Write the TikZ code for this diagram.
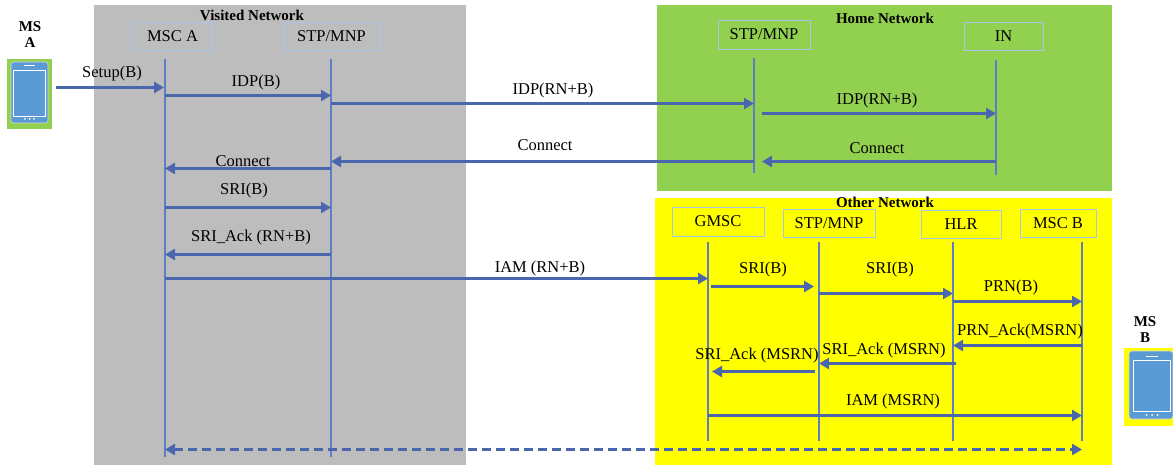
\documentclass[tikz,border=0pt]{standalone}
\usepackage{fontspec}
\setmainfont{Liberation Serif}
\usetikzlibrary{arrows.meta}
\definecolor{visitedgray}{HTML}{BDBDBD}
\definecolor{homegreen}{HTML}{92D050}
\definecolor{otheryellow}{HTML}{FFFF00}
\definecolor{msgblue}{HTML}{4A66AC}
\definecolor{lifeblue}{HTML}{5F7CC8}
\definecolor{boxblue}{HTML}{A5C8EA}
\definecolor{phoneblue}{HTML}{5B9BD5}
\tikzset{
  entity/.style={draw=boxblue,line width=0.9pt,inner sep=0pt,font=\fontsize{16.5}{19}\selectfont,text=black},
  life/.style={draw=lifeblue,line width=1.1pt},
  msgline/.style={line width=2.8pt,color=msgblue},
  msg/.style={msgline,-{Triangle[length=10pt,width=11pt]}},
  msgdash/.style={msgline,dash pattern=on 9pt off 5pt,{Triangle[length=10pt,width=11pt]}-{Triangle[length=10pt,width=11pt]}},
  lbl/.style={font=\fontsize{16.5}{19}\selectfont,text=black,inner sep=0pt,yshift=-1pt},
  ttl/.style={font=\bfseries\fontsize{15}{17}\selectfont,text=black,inner sep=0pt,align=center},
}
\begin{document}
\begin{tikzpicture}[x=1pt,y=-1pt]
\useasboundingbox (0,0) rectangle (1173,465);
% regions
\fill[visitedgray] (94,5) rectangle (466,465);
\fill[homegreen] (657,5) rectangle (1112,191);
\fill[otheryellow] (655,198) rectangle (1112,465);
% region titles
\node[ttl] (tv) at (252,15) {Visited Network};
\node[ttl] (th) at (885,18) {Home Network};
\node[ttl] (to) at (885,202) {Other Network};
\node[ttl] (msa) at (30,35) {MS\\[-1pt]A};
\node[ttl] (msb) at (1145,330) {MS\\[-1pt]B};
% phones
\fill[homegreen] (7,59) rectangle (52,129);
\fill[phoneblue,draw=black!15,line width=0.6pt,rounded corners=2.5pt] (11,62) rectangle (48,123);
\draw[white,line width=0.8pt] (13.5,70) rectangle (45,116);
\draw[white,line width=1pt] (24,66) -- (35,66);
\fill[white] (25,119) circle (1) (29.5,119) circle (1) (34,119) circle (1);
\fill[otheryellow] (1124,348) rectangle (1173,426);
\fill[phoneblue,draw=black!15,line width=0.6pt,rounded corners=3pt] (1129,351) rectangle (1173,419);
\draw[white,line width=0.8pt] (1133,360) rectangle (1170,411);
\draw[white,line width=1pt] (1146,356) -- (1158,356);
\fill[white] (1146.5,415) circle (1) (1152,415) circle (1) (1157.5,415) circle (1);
% entities
\node[entity,minimum width=79pt,minimum height=28pt] (mscA) at (172.5,36) {MSC A};
\node[entity,minimum width=95pt,minimum height=28pt] (stpV) at (331.5,36) {STP/MNP};
\node[entity,minimum width=92pt,minimum height=29pt] (stpH) at (764,34.5) {STP/MNP};
\node[entity,minimum width=79pt,minimum height=28pt] (inH) at (1003.5,36) {IN};
\node[entity,minimum width=92pt,minimum height=29pt] (gmsc) at (718,221.5) {GMSC};
\node[entity,minimum width=92pt,minimum height=28pt] (stpO) at (829,223) {STP/MNP};
\node[entity,minimum width=80pt,minimum height=28pt] (hlr) at (961,224) {HLR};
\node[entity,minimum width=76pt,minimum height=28pt] (mscB) at (1058,223) {MSC B};
% lifelines
\coordinate (la0) at (165,59);  \coordinate (la1) at (165,457);
\coordinate (lb0) at (331,59);  \coordinate (lb1) at (331,457);
\coordinate (lc0) at (754,58);  \coordinate (lc1) at (754,173);
\coordinate (ld0) at (996,60);  \coordinate (ld1) at (996,175);
\coordinate (le0) at (708,242); \coordinate (le1) at (708,441);
\coordinate (lf0) at (819,242); \coordinate (lf1) at (819,441);
\coordinate (lg0) at (953,242); \coordinate (lg1) at (953,441);
\coordinate (lh0) at (1082,242);\coordinate (lh1) at (1082,441);
\foreach \k in {a,b,c,d,e,f,g,h} \draw[life] (l\k0) -- (l\k1);
% messages
\foreach \idx/\xa/\ya/\xb in {
  1/56/87.5/164, 2/165/95.5/331, 3/331/103.5/754, 4/762/113.5/996,
  5/754/161.5/331, 6/996/161.5/762, 7/331/168.5/165, 8/165/207.5/331,
  9/331/254.5/165, 10/165/278.5/708, 11/711/286.5/814, 12/819/293.5/953,
  13/953/301.5/1082, 14/1082/345.5/953, 15/956/363.5/819, 16/815/371.5/712,
  17/708/415.5/1082}{
  \coordinate (s\idx) at (\xa,\ya);
  \coordinate (e\idx) at (\xb,\ya);
  \draw[msg] (s\idx) -- (e\idx);
}
\coordinate (s18) at (165,449.5);
\coordinate (e18) at (1082,449.5);
\draw[msgdash] (s18) -- (e18);
% labels
\node[lbl] (t1) at (112,73) {Setup(B)};
\node[lbl] (t2) at (256,82) {IDP(B)};
\node[lbl] (t3) at (553,90) {IDP(RN+B)};
\node[lbl] (t4) at (877,99.5) {IDP(RN+B)};
\node[lbl] (t5) at (545,144) {Connect};
\node[lbl] (t6) at (877,147) {Connect};
\node[lbl] (t7) at (243,160) {Connect};
\node[lbl] (t8) at (244,190) {SRI(B)};
\node[lbl] (t9) at (251,237) {SRI\_Ack (RN+B)};
\node[lbl] (t10) at (540,268) {IAM (RN+B)};
\node[lbl] (t11) at (763,269) {SRI(B)};
\node[lbl] (t12) at (890,269) {SRI(B)};
\node[lbl] (t13) at (1011,287) {PRN(B)};
\node[lbl] (t14) at (1020,331) {PRN\_Ack(MSRN)};
\node[lbl] (t15) at (884,349.5) {SRI\_Ack (MSRN)};
\node[lbl] (t16) at (757,355) {SRI\_Ack (MSRN)};
\node[lbl] (t17) at (893,401) {IAM (MSRN)};
\end{tikzpicture}
\end{document}
